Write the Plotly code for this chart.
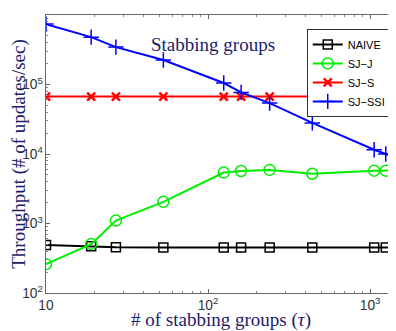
import plotly.graph_objects as go

groups = [10, 19, 27, 53, 125, 160, 240, 440, 1060, 1250, 2000]
naive = [490, 470, 455, 450, 450, 450, 450, 450, 450, 450, 450]
sj_j = [260, 505, 1100, 2050, 5400, 5700, 5900, 5200, 5750, 5750, 5800]
sj_s = [67000] * 11
sj_ssi = [740000, 480000, 345000, 225000, 105000, 77000, 54000, 28000, 11500, 10000, 6300]

navy = "#1c1c6b"
fig = go.Figure()
fig.add_trace(go.Scatter(x=groups, y=naive, name="NAIVE", mode="lines+markers",
                         line=dict(color="black", width=2),
                         marker=dict(symbol="square-open", size=9, color="black", line=dict(width=1.5))))
fig.add_trace(go.Scatter(x=groups, y=sj_j, name="SJ\u2212J", mode="lines+markers",
                         line=dict(color="#00ee00", width=2),
                         marker=dict(symbol="circle-open", size=11, color="#00ee00", line=dict(width=1.5))))
fig.add_trace(go.Scatter(x=groups, y=sj_s, name="SJ\u2212S", mode="lines+markers",
                         line=dict(color="red", width=2),
                         marker=dict(symbol="x-thin-open", size=8, color="red", line=dict(width=2.5))))
fig.add_trace(go.Scatter(x=groups, y=sj_ssi, name="SJ\u2212SSI", mode="lines+markers",
                         line=dict(color="blue", width=2),
                         marker=dict(symbol="cross-thin-open", size=11, color="blue", line=dict(width=1.5))))

fig.add_annotation(text="Stabbing groups", x=0.293, y=0.894, xref="paper", yref="paper",
                   xanchor="left", yanchor="middle", showarrow=False,
                   font=dict(family="Liberation Serif", size=19, color=navy))

axis_common = dict(type="log", showgrid=False, zeroline=False, showline=True,
                   linecolor="#666", linewidth=1, ticks="inside", ticklen=4,
                   tickcolor="#666", exponentformat="power",
                   tickfont=dict(family="Liberation Sans", size=11, color="#333"),
                   minor=dict(ticks="inside", ticklen=2, tickcolor="#888"))

fig.update_xaxes(**axis_common, range=[1, 3.16], mirror="ticks",
                 dtick=1,
                 title=dict(text="# of stabbing groups (<i>\u03c4</i>)", standoff=1,
                            font=dict(family="Liberation Serif", size=19, color=navy)))
fig.update_yaxes(**axis_common, range=[2, 6], dtick=1,
                 title=dict(text="Throughput (# of updates/sec)", standoff=1,
                            font=dict(family="Liberation Serif", size=19, color=navy)))

fig.update_layout(width=388, height=323, plot_bgcolor="white", paper_bgcolor="white",
                  margin=dict(l=38, r=0, t=7, b=38, autoexpand=False),
                  legend=dict(x=0.745, y=0.95, xanchor="left", yanchor="top",
                              bgcolor="white", bordercolor="#333", borderwidth=1,
                              font=dict(family="Liberation Sans", size=11, color="black"),
                              tracegroupgap=0, itemwidth=30),
                  showlegend=True)

fig.write_html("out.html")
